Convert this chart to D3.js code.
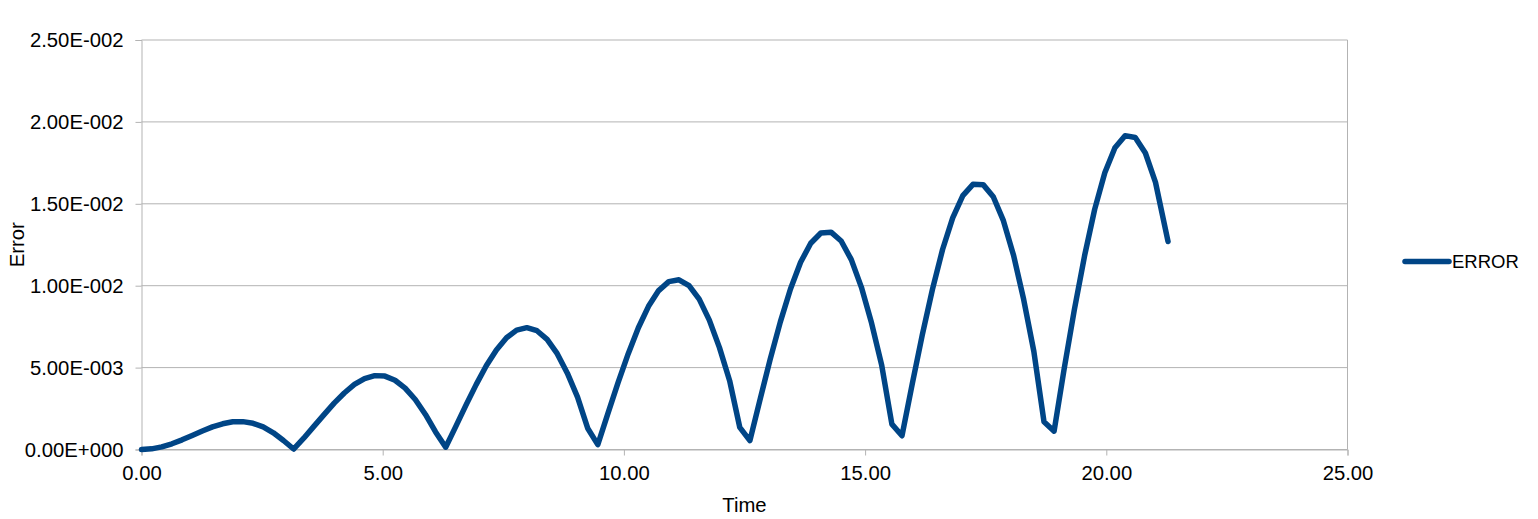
<!DOCTYPE html>
<html><head><meta charset="utf-8">
<script src="https://cdn.jsdelivr.net/npm/d3@7"></script>
<style>
html,body{margin:0;padding:0;background:#fff;}
svg{display:block;font-family:"Liberation Sans",Arial,sans-serif;}
</style></head>
<body>
<svg id="chart" width="1538" height="519"></svg>
<script>
// ---- data ----
const seriesName = "ERROR";
const time = [
  0, 0.210, 0.420, 0.631, 0.841, 1.051, 1.261, 1.471, 1.682, 1.892,
  2.102, 2.312, 2.522, 2.733, 2.943, 3.153, 3.363, 3.573, 3.784, 3.994,
  4.204, 4.414, 4.624, 4.835, 5.045, 5.255, 5.465, 5.675, 5.886, 6.096,
  6.306, 6.516, 6.726, 6.937, 7.147, 7.357, 7.567, 7.777, 7.988, 8.198,
  8.408, 8.618, 8.828, 9.039, 9.249, 9.459, 9.669, 9.879, 10.090, 10.300,
  10.510, 10.720, 10.930, 11.141, 11.351, 11.561, 11.771, 11.981, 12.192, 12.402,
  12.612, 12.822, 13.032, 13.243, 13.453, 13.663, 13.873, 14.083, 14.294, 14.504,
  14.714, 14.924, 15.134, 15.345, 15.555, 15.765, 15.975, 16.185, 16.396, 16.606,
  16.816, 17.026, 17.236, 17.447, 17.657, 17.867, 18.077, 18.287, 18.498, 18.708,
  18.918, 19.128, 19.338, 19.549, 19.759, 19.969, 20.179, 20.389, 20.600, 20.810,
  21.020, 21.280
];
const error = [
  0.00000, 0.00004, 0.00016, 0.00035, 0.00059, 0.00086, 0.00113, 0.00138, 0.00157, 0.00169,
  0.00170, 0.00160, 0.00138, 0.00102, 0.00055, 0.00003, 0.00069, 0.00141, 0.00213, 0.00283,
  0.00345, 0.00397, 0.00433, 0.00451, 0.00448, 0.00423, 0.00375, 0.00305, 0.00214, 0.00107,
  0.00014, 0.00141, 0.00271, 0.00396, 0.00511, 0.00608, 0.00682, 0.00729, 0.00744, 0.00725,
  0.00672, 0.00585, 0.00466, 0.00320, 0.00130, 0.00030, 0.00220, 0.00408, 0.00585, 0.00743,
  0.00874, 0.00970, 0.01025, 0.01036, 0.01000, 0.00918, 0.00790, 0.00622, 0.00420, 0.00135,
  0.00054, 0.00305, 0.00550, 0.00779, 0.00980, 0.01143, 0.01259, 0.01322, 0.01327, 0.01273,
  0.01159, 0.00990, 0.00772, 0.00513, 0.00155, 0.00084, 0.00397, 0.00699, 0.00978, 0.01221,
  0.01414, 0.01550, 0.01619, 0.01617, 0.01543, 0.01397, 0.01186, 0.00916, 0.00599, 0.00170,
  0.00112, 0.00495, 0.00854, 0.01182, 0.01466, 0.01689, 0.01842, 0.01916, 0.01905, 0.01810,
  0.01631, 0.01270
];
const xTicks = [0, 5, 10, 15, 20, 25];
const xTickLabels = ["0.00", "5.00", "10.00", "15.00", "20.00", "25.00"];
const yTicks = [0, 0.005, 0.01, 0.015, 0.02, 0.025];
const yTickLabels = ["0.00E+000", "5.00E-003", "1.00E-002", "1.50E-002", "2.00E-002", "2.50E-002"];
const xTitle = "Time";
const yTitle = "Error";

// ---- layout ----
const plotLeft = 141.5, plotRight = 1347.5, plotTop = 40, plotBottom = 449.5;
const lineColor = "#004586", gridColor = "#b3b3b3";
const axisFont = "20.3px", legendFont = "18.5px";
const fontFam = "'Liberation Sans', Arial, sans-serif";

const svg = d3.select("#chart");
const x = d3.scaleLinear().domain([0, 25]).range([plotLeft, plotRight]);
const y = d3.scaleLinear().domain([0, 0.025]).range([plotBottom, plotTop]);

// horizontal grid lines
svg.append("g").selectAll("line").data(yTicks).join("line")
  .attr("x1", plotLeft).attr("x2", plotRight)
  .attr("y1", d => y(d)).attr("y2", d => y(d))
  .attr("stroke", gridColor).attr("stroke-width", 1);

// Y axis (left)
const yAxis = d3.axisLeft(y).tickValues(yTicks)
  .tickFormat((d, i) => yTickLabels[i]).tickSize(6).tickPadding(12);
const gy = svg.append("g").attr("transform", `translate(${plotLeft},0)`).call(yAxis);
gy.select(".domain").attr("stroke", gridColor);
gy.selectAll(".tick line").attr("stroke", gridColor);
gy.selectAll(".tick text").attr("fill", "#000").style("font-size", axisFont)
  .style("font-family", fontFam);

// right frame line
svg.append("line").attr("x1", plotRight).attr("x2", plotRight)
  .attr("y1", plotTop).attr("y2", plotBottom)
  .attr("stroke", gridColor).attr("stroke-width", 1);

// X axis (bottom)
const xAxis = d3.axisBottom(x).tickValues(xTicks)
  .tickFormat((d, i) => xTickLabels[i]).tickSize(6).tickPadding(10);
const gx = svg.append("g").attr("transform", `translate(0,${plotBottom})`).call(xAxis);
gx.select(".domain").attr("stroke", gridColor);
gx.selectAll(".tick line").attr("stroke", gridColor);
gx.selectAll(".tick text").attr("fill", "#000").style("font-size", axisFont)
  .style("font-family", fontFam);

// axis titles
svg.append("text").attr("x", (plotLeft + plotRight) / 2).attr("y", 511.5)
  .attr("text-anchor", "middle").style("font-size", axisFont).style("font-family", fontFam)
  .attr("fill", "#000").text(xTitle);
svg.append("text").attr("transform", `translate(24,${(plotTop + plotBottom) / 2}) rotate(-90)`)
  .attr("text-anchor", "middle").style("font-size", axisFont).style("font-family", fontFam)
  .attr("fill", "#000").text(yTitle);

// series line
const pts = time.map((t, i) => [t, error[i]]);
svg.append("path").datum(pts)
  .attr("fill", "none").attr("stroke", lineColor).attr("stroke-width", 5.5)
  .attr("stroke-linejoin", "round").attr("stroke-linecap", "round")
  .attr("d", d3.line().x(d => x(d[0])).y(d => y(d[1])));

// legend
const lg = svg.append("g").attr("transform", "translate(1405,261.5)");
lg.append("line").attr("x1", 0).attr("x2", 44).attr("y1", 0).attr("y2", 0)
  .attr("stroke", lineColor).attr("stroke-width", 5.5).attr("stroke-linecap", "round");
lg.append("text").attr("x", 47).attr("y", 6.5).style("font-size", legendFont)
  .style("font-family", fontFam).attr("fill", "#000").text(seriesName);
</script>
</body></html>
